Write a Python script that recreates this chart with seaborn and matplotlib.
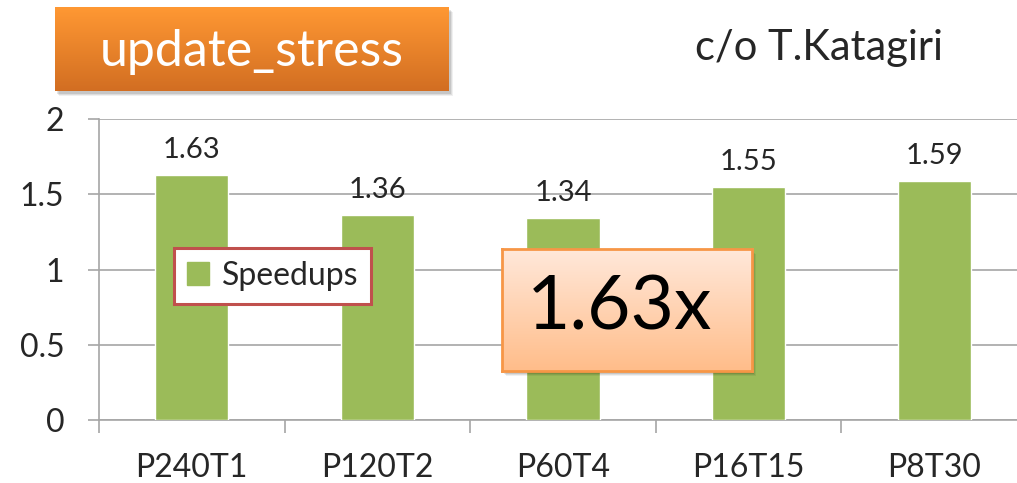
import matplotlib
matplotlib.use("Agg")
import matplotlib.pyplot as plt
import matplotlib.patches as mpatches
from matplotlib.colors import LinearSegmentedColormap
import seaborn as sns
import pandas as pd
import numpy as np

# data
configs = ["P240T1", "P120T2", "P60T4", "P16T15", "P8T30"]
speedups = [1.63, 1.36, 1.34, 1.55, 1.59]
y_ticks = [0, 0.5, 1, 1.5, 2]
y_tick_labels = ["0", "0.5", "1", "1.5", "2"]
series_name = "Speedups"
title_text = "update_stress"
credit_text = "c/o T.Katagiri"
callout_text = "1.63x"

W, H = 1017, 483
bar_green = "#9BBB59"
grid_gray = "#A6A6A6"

sns.set_style("white")
plt.rcParams["font.family"] = ["Lato", "DejaVu Sans"]

df = pd.DataFrame({"config": configs, "speedup": speedups})

fig = plt.figure(figsize=(W / 100, H / 100), dpi=100)


def fx(px):
    return px / W


def fy(py):
    return 1 - py / H


# main axes (runs slightly past the right edge like the slide crop)
ax = fig.add_axes([fx(99), fy(420), fx(1027) - fx(99), fy(119) - fy(420)])
sns.barplot(data=df, x="config", y="speedup", color=bar_green, width=0.395,
            saturation=1, ax=ax, zorder=3)

ax.set_ylim(0, 2)
ax.set_xlim(-0.5, len(configs) - 0.5)
ax.set_yticks(y_ticks)
ax.set_yticklabels(y_tick_labels)
ax.yaxis.grid(True, color=grid_gray, linewidth=1.2, zorder=0)
ax.set_axisbelow(True)
for s in ["top", "right"]:
    ax.spines[s].set_visible(False)
ax.spines["left"].set_color(grid_gray)
ax.spines["bottom"].set_color(grid_gray)
ax.spines["left"].set_linewidth(1.2)
ax.spines["bottom"].set_linewidth(1.2)

ax.tick_params(axis="y", direction="out", length=8, width=1.2, color=grid_gray,
               labelsize=23, pad=17, left=True)
ax.tick_params(axis="x", which="major", length=0, labelsize=23, pad=24)
ax.set_xticks(np.arange(len(configs) + 1) - 0.5, minor=True)
ax.tick_params(axis="x", which="minor", direction="out", length=9, width=1.2,
               color=grid_gray, bottom=True)
ax.set_xlabel("")
ax.set_ylabel("")

for i, v in enumerate(speedups):
    ax.text(i, v + 0.08, f"{v:.2f}", ha="center", va="bottom", fontsize=21)

# legend
handle = mpatches.Patch(color=bar_green, label=series_name)
leg = ax.legend(handles=[handle], loc="upper left",
                bbox_to_anchor=(fx(174), fy(248)), bbox_transform=fig.transFigure,
                borderaxespad=0, fancybox=False, fontsize=23,
                handlelength=0.7, handleheight=0.7, handletextpad=0.4,
                borderpad=0.4, framealpha=1)
leg.get_frame().set_edgecolor("#C0504D")
leg.get_frame().set_linewidth(2.2)
leg.set_zorder(5)


def gradient_box(x0, y0, x1, y1, top, bottom, edge=None, shadow=True, z=10):
    if shadow:
        for k, a in enumerate([0.10, 0.08, 0.06]):
            sh = mpatches.Rectangle((fx(x0 + 2 + k), fy(y1 + 3 + k)),
                                    fx(x1 - x0), fy(y0) - fy(y1),
                                    transform=fig.transFigure, color="black",
                                    alpha=a, zorder=z - 1, lw=0)
            fig.patches.append(sh)
    bax = fig.add_axes([fx(x0), fy(y1), fx(x1 - x0), fy(y0) - fy(y1)], zorder=z)
    cmap = LinearSegmentedColormap.from_list("g", [top, bottom])
    grad = np.linspace(0, 1, 100).reshape(-1, 1)
    bax.imshow(grad, aspect="auto", cmap=cmap, extent=(0, 1, 0, 1), origin="upper")
    bax.set_xlim(0, 1)
    bax.set_ylim(0, 1)
    bax.set_xticks([])
    bax.set_yticks([])
    for s in bax.spines.values():
        if edge:
            s.set_color(edge)
            s.set_linewidth(2)
        else:
            s.set_visible(False)
    return bax


# title box
tb = gradient_box(55, 7, 449, 91, "#FF9833", "#D26E22")
tb.text(0.5, 0.47, title_text, ha="center", va="center", color="white",
        fontsize=36, transform=tb.transAxes)

# credit
fig.text(fx(819), fy(48), credit_text, ha="center", va="center", fontsize=30)

# callout box
cb = gradient_box(502, 249, 752, 371, "#FFE8DA", "#FFBD8A", edge="#F79646")
cb.text(0.47, 0.52, callout_text, ha="center", va="center", color="black",
        fontsize=54, transform=cb.transAxes)

fig.savefig("out.png", dpi=100)
